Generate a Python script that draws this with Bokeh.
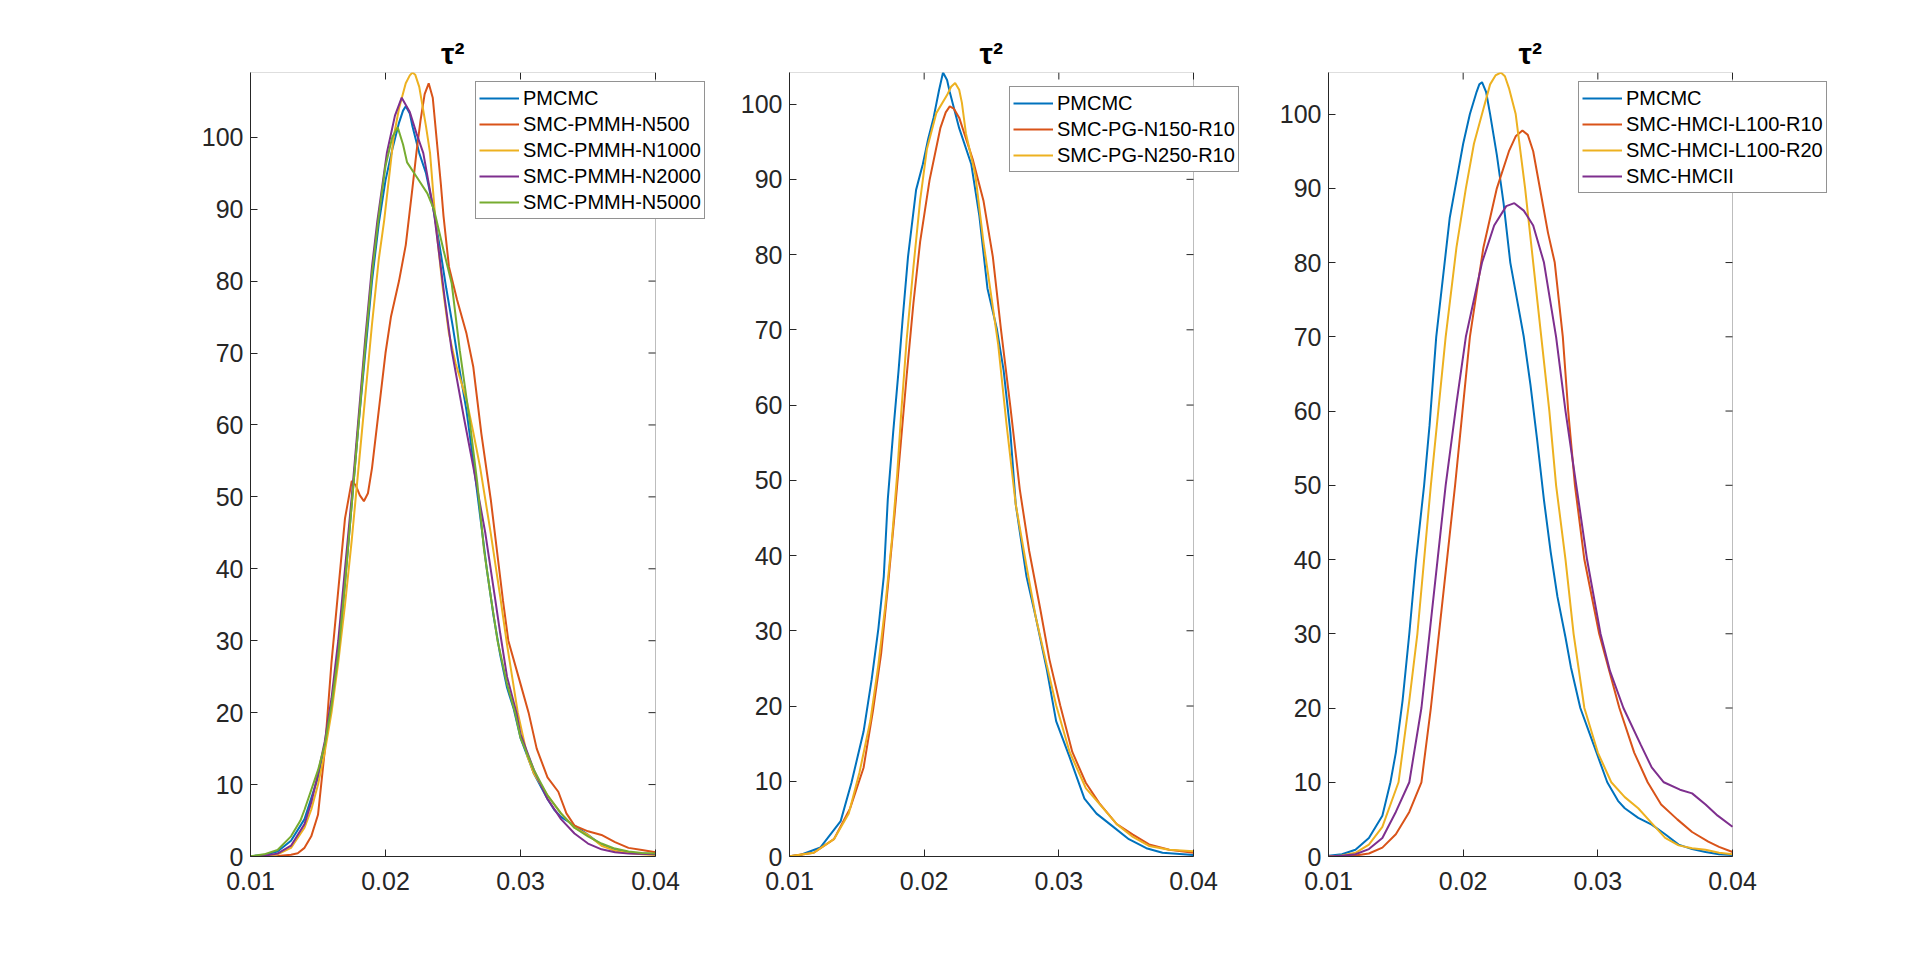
import math
from bokeh.plotting import figure
from bokeh.models import Range1d, FixedTicker, LinearAxis, Legend, LegendItem, BoxAnnotation, Title
from bokeh.layouts import row
from bokeh.embed import file_html
from bokeh.resources import INLINE

# ---------------- data ----------------
x_ticks = [0.01, 0.02, 0.03, 0.04]
y_ticks = [0, 10, 20, 30, 40, 50, 60, 70, 80, 90, 100]
x_lo, x_hi = 0.01, 0.04
title_text = "τ²"

# Panel 1
p1_labels = ["PMCMC", "SMC-PMMH-N500", "SMC-PMMH-N1000", "SMC-PMMH-N2000", "SMC-PMMH-N5000"]
p1_ymax = 109
p1_pmcmc_x = [0.010, 0.011, 0.012, 0.013, 0.014, 0.015, 0.0155, 0.016, 0.0165, 0.017, 0.0175, 0.018, 0.0185,
              0.019, 0.0195, 0.020, 0.0205, 0.021, 0.0213, 0.0215, 0.0218, 0.022, 0.0225, 0.023, 0.0235, 0.024,
              0.0245, 0.025, 0.0255, 0.026, 0.0265, 0.027, 0.0275, 0.028, 0.0285, 0.029, 0.0295, 0.030, 0.031,
              0.032, 0.0325, 0.033, 0.034, 0.035, 0.036, 0.037, 0.038, 0.039, 0.040]
p1_pmcmc_y = [0.05, 0.2, 0.7, 2.2, 5.2, 11, 15.5, 21, 28, 38, 49, 60, 70,
              80, 88, 94, 98.3, 102, 103.7, 104.3, 103.3, 101.5, 97.8, 95, 90.5, 85,
              79, 73.5, 67.5, 62, 55, 47.5, 40, 33.5, 28, 23.5, 20.5, 16.5, 11.5,
              8, 6.5, 5.5, 4.3, 3, 1.6, 0.9, 0.6, 0.4, 0.3]
p1_n500_x = [0.010, 0.011, 0.012, 0.013, 0.0135, 0.014, 0.0145, 0.015, 0.0155, 0.016, 0.0165, 0.017, 0.0175,
             0.0178, 0.0181, 0.0184, 0.0187, 0.019, 0.0195, 0.020, 0.0204, 0.021, 0.0215, 0.022, 0.0223, 0.0226,
             0.0229, 0.0232, 0.0235, 0.0238, 0.0241, 0.0243, 0.0247, 0.0253, 0.026, 0.0265, 0.0271, 0.0278,
             0.0287, 0.0291, 0.030, 0.0306, 0.0312, 0.032, 0.0328, 0.0334, 0.034, 0.035, 0.036, 0.037, 0.038,
             0.039, 0.040]
p1_n500_y = [0, 0.02, 0.08, 0.25, 0.45, 1.2, 2.8, 5.8, 14.7, 27, 37, 47, 52.2,
             51.6, 50.2, 49.4, 50.5, 54, 62, 70, 75, 80, 85, 93, 98, 102.4,
             106, 107.5, 105.5, 99.5, 93.5, 89, 82, 77.4, 72.7, 68.1, 58.8, 49.6,
             35.6, 30, 24, 20, 15, 11, 9, 6, 4.3, 3.5, 3.0, 2.0, 1.2,
             0.9, 0.6]
p1_n1000_x = [0.010, 0.011, 0.012, 0.013, 0.014, 0.0145, 0.015, 0.0155, 0.016, 0.0165, 0.017, 0.0175, 0.018,
              0.0185, 0.019, 0.0195, 0.0199, 0.0203, 0.0206, 0.021, 0.0215, 0.0218, 0.022, 0.0222, 0.0225, 0.023,
              0.0233, 0.0237, 0.0242, 0.0247, 0.0252, 0.026, 0.0265, 0.027, 0.0278, 0.0285, 0.029, 0.0298, 0.0305,
              0.031, 0.032, 0.033, 0.034, 0.035, 0.036, 0.037, 0.038, 0.039, 0.040]
p1_n1000_y = [0.02, 0.08, 0.3, 1.2, 4, 6.5, 10, 14.5, 20, 27, 35, 44, 54,
              64, 74, 83, 88.4, 95, 100, 104, 107.5, 108.6, 109, 108.7, 107, 101.5,
              97.8, 88.4, 79.7, 72.7, 68.5, 63.5, 59, 54.2, 44.9, 36.1, 29.5, 20, 14,
              11.5, 8.5, 6, 4, 3, 1.5, 0.8, 0.5, 0.3, 0.2]
p1_n2000_x = [0.010, 0.011, 0.012, 0.013, 0.014, 0.0145, 0.015, 0.0155, 0.016, 0.0165, 0.017, 0.0175, 0.018,
              0.0185, 0.019, 0.0194, 0.0201, 0.0207, 0.0212, 0.0218, 0.0223, 0.0228, 0.0236, 0.0244, 0.0249,
              0.0258, 0.0265, 0.0274, 0.0281, 0.0285, 0.029, 0.0297, 0.030, 0.031, 0.032, 0.033, 0.034, 0.035,
              0.036, 0.037, 0.038, 0.040]
p1_n2000_y = [0.03, 0.1, 0.4, 1.5, 4.5, 7.5, 11.5, 16, 22, 30, 40, 50, 61,
              72, 82, 88.4, 97.8, 103, 105.5, 103.5, 100.5, 97.8, 89.4, 77.4, 70.4,
              61.1, 54.2, 44.9, 36.1, 31, 25, 20, 17, 12, 8, 5.2, 3.2, 1.8,
              1.0, 0.6, 0.4, 0.3]
p1_n5000_x = [0.010, 0.011, 0.012, 0.013, 0.0137, 0.014, 0.015, 0.0155, 0.016, 0.0165, 0.017, 0.0175, 0.018,
              0.0185, 0.019, 0.0195, 0.020, 0.0205, 0.0209, 0.0213, 0.0216, 0.0223, 0.0231, 0.0236, 0.0243,
              0.0249, 0.0255, 0.0262, 0.0268, 0.0273, 0.0278, 0.0283, 0.029, 0.0296, 0.030, 0.031, 0.032, 0.033,
              0.034, 0.035, 0.036, 0.037, 0.038, 0.039, 0.040]
p1_n5000_y = [0.05, 0.3, 0.9, 2.8, 5, 6.5, 12, 15.5, 21, 28, 38, 49, 60,
              71, 81, 89, 96, 100, 101.4, 99, 96.5, 94.5, 92.2, 89.9, 84.3,
              79.7, 70.4, 61.1, 51.9, 42.6, 36.1, 30, 24, 20, 16.5, 12, 8.5, 6,
              4, 2.8, 1.8, 1.1, 0.7, 0.5, 0.4]

# Panel 2
p2_labels = ["PMCMC", "SMC-PG-N150-R10", "SMC-PG-N250-R10"]
p2_ymax = 104.2
p2_pmcmc_x = [0.010, 0.0108, 0.0123, 0.0138, 0.0146, 0.0155, 0.0161, 0.0166, 0.0170, 0.0173, 0.0177, 0.0181,
              0.0184, 0.0188, 0.0194, 0.0199, 0.0203, 0.0207, 0.0211, 0.0214, 0.0217, 0.0219, 0.0226, 0.0235,
              0.0241, 0.0247, 0.0254, 0.0259, 0.0264, 0.0268, 0.0276, 0.0283, 0.0291, 0.0298, 0.0308, 0.0319,
              0.0328, 0.034, 0.0352, 0.0365, 0.0377, 0.040]
p2_pmcmc_y = [0.05, 0.2, 1.2, 4.7, 9.8, 16.6, 23.5, 30.3, 37.2, 47.5, 56.4, 64.6,
              71.4, 79.7, 88.6, 92, 95.4, 98.2, 101.8, 104.2, 103.2, 101.6, 96.8, 92,
              85.1, 75.5, 70.1, 64.6, 56.4, 46.8, 37.2, 31.7, 24.9, 18, 13.2, 7.7,
              5.7, 4.0, 2.3, 1.1, 0.5, 0.2]
p2_n150_x = [0.010, 0.0118, 0.0133, 0.0145, 0.0155, 0.0162, 0.0168, 0.0173, 0.0178, 0.0182, 0.0187, 0.0192,
             0.0197, 0.0204, 0.0212, 0.0216, 0.0219, 0.0222, 0.0226, 0.0236, 0.0244, 0.0251, 0.0257, 0.0264,
             0.0271, 0.0278, 0.0286, 0.0293, 0.0301, 0.0310, 0.0320, 0.0330, 0.0343, 0.0355, 0.0367, 0.0382,
             0.040]
p2_n150_y = [0.02, 0.5, 2.3, 6.4, 11.8, 19.4, 26.9, 35.8, 45.4, 53.6, 63.9, 73.5,
             81.7, 89.9, 96.8, 98.9, 99.7, 99.4, 98.2, 92.7, 87.2, 79.7, 70.1, 59.8,
             48.8, 40.6, 33.1, 26.2, 20.1, 13.9, 9.8, 7.1, 4.3, 2.9, 1.6, 0.9,
             0.5]
p2_n250_x = [0.010, 0.0118, 0.0133, 0.0144, 0.0152, 0.0160, 0.0166, 0.0171, 0.0176, 0.0180, 0.0183, 0.0187,
             0.0192, 0.0197, 0.0202, 0.0209, 0.0217, 0.0220, 0.0223, 0.0226, 0.0228, 0.0231, 0.0238, 0.0244,
             0.0249, 0.0255, 0.0261, 0.0268, 0.0276, 0.0283, 0.0291, 0.0298, 0.0308, 0.0320, 0.0333, 0.0343,
             0.0355, 0.0367, 0.0382, 0.040]
p2_n250_y = [0.02, 0.5, 2.3, 5.7, 11.2, 18, 25.5, 33.1, 42, 50.9, 59.1, 68.7,
             78.3, 87.2, 94, 98.8, 101.2, 102.3, 102.8, 101.9, 100.2, 96.1, 90.6, 81.7,
             75.5, 68, 57.7, 46.8, 38.6, 31.7, 25.5, 20.1, 13.9, 9.1, 6.4, 4.3,
             2.6, 1.4, 0.9, 0.7]

# Panel 3
p3_labels = ["PMCMC", "SMC-HMCI-L100-R10", "SMC-HMCI-L100-R20", "SMC-HMCII"]
p3_ymax = 105.6
p3_pmcmc_x = [0.010, 0.011, 0.012, 0.013, 0.014, 0.0146, 0.015, 0.0155, 0.016, 0.0165, 0.0171, 0.0175, 0.018,
              0.0185, 0.019, 0.0194, 0.020, 0.0205, 0.021, 0.0212, 0.0214, 0.0217, 0.022, 0.0225, 0.023, 0.0235,
              0.024, 0.0245, 0.025, 0.0255, 0.026, 0.0265, 0.027, 0.0276, 0.028, 0.0287, 0.0295, 0.030, 0.0307,
              0.0315, 0.032, 0.033, 0.034, 0.035, 0.036, 0.037, 0.038, 0.039, 0.040]
p3_pmcmc_y = [0.1, 0.3, 0.9, 2.5, 5.5, 10, 14, 21, 30, 40, 50, 58, 70,
              78, 86, 90, 96, 100, 103, 104, 104.3, 103, 100, 94.5, 88, 80,
              75, 70, 63.5, 56, 48, 41, 35, 29.5, 25.5, 20, 16, 13.5, 10,
              7.5, 6.5, 5.2, 4.3, 3, 1.6, 1, 0.6, 0.3, 0.2]
p3_r10_x = [0.010, 0.011, 0.012, 0.013, 0.014, 0.015, 0.016, 0.0169, 0.0176, 0.0182, 0.0188, 0.0194, 0.0205,
            0.0215, 0.0225, 0.0234, 0.0239, 0.0244, 0.0248, 0.0252, 0.0258, 0.0263, 0.0268, 0.0274, 0.0278,
            0.0283, 0.029, 0.0301, 0.0316, 0.0327, 0.0337, 0.0347, 0.0359, 0.037, 0.0382, 0.039, 0.040]
p3_r10_y = [0, 0.05, 0.15, 0.4, 1.2, 3, 6, 10, 20, 30, 40, 50, 70,
            82, 90, 95, 97, 97.8, 97.2, 95, 89, 84, 80, 70, 60,
            50, 40, 30, 20, 14, 10, 7, 5, 3.3, 2, 1.3, 0.6]
p3_r20_x = [0.010, 0.011, 0.012, 0.013, 0.014, 0.0152, 0.016, 0.0166, 0.0176, 0.0187, 0.0195, 0.0202, 0.0208,
            0.0214, 0.022, 0.0224, 0.0228, 0.0231, 0.0234, 0.0239, 0.0246, 0.0252, 0.0258, 0.0264, 0.0269,
            0.0276, 0.0282, 0.029, 0.030, 0.031, 0.032, 0.033, 0.034, 0.035, 0.036, 0.037, 0.038, 0.039, 0.040]
p3_r20_y = [0, 0.15, 0.5, 1.6, 4, 10, 21, 30, 50, 70, 82, 90, 96,
            100, 104, 105.2, 105.6, 105.1, 103.5, 100, 90, 80, 70, 60, 50,
            40, 30, 20, 14, 10, 8, 6.5, 4.5, 2.5, 1.5, 1.1, 0.9, 0.5, 0.3]
p3_hmcii_x = [0.010, 0.011, 0.012, 0.013, 0.014, 0.015, 0.016, 0.0169, 0.0175, 0.0181, 0.0187, 0.0195, 0.0202,
              0.0214, 0.0223, 0.0232, 0.0238, 0.0245, 0.0252, 0.026, 0.0269, 0.0276, 0.0284, 0.0292, 0.0302,
              0.0309, 0.0319, 0.0332, 0.034, 0.0349, 0.0361, 0.037, 0.038, 0.0389, 0.040]
p3_hmcii_y = [0, 0.1, 0.3, 1, 2.5, 6, 10, 20, 30, 40, 50, 61, 70,
              80, 85, 87.6, 88, 87, 85, 80, 70, 60, 50, 40, 30,
              25, 20, 15, 12, 10, 9, 8.5, 7, 5.5, 4]

# ---------------- styling ----------------
COLORS = ["#0072BD", "#D95319", "#EDB120", "#7E2F8E", "#77AC30"]
FONT = "Liberation Sans"
AX = "#262626"
FRAME_H = 784
TICK = 7


def style_axis(ax):
    ax.axis_line_color = AX
    ax.axis_line_width = 1
    ax.major_tick_line_color = AX
    ax.major_tick_in = TICK
    ax.major_tick_out = 0
    ax.minor_tick_line_color = None
    ax.major_label_text_font = FONT
    ax.major_label_text_font_size = "25px"
    ax.major_label_text_color = AX


def make_panel(xs, ys, labels, ymax, box_w, extra_w, bl, br, legend_xy):
    frame_w = box_w + extra_w
    # x range extended to the right so the legend (which overhangs the box) stays inside the frame
    x_end = x_lo + (x_hi - x_lo) * frame_w / box_w
    p = figure(frame_width=frame_w, frame_height=FRAME_H,
               min_border_left=bl, min_border_right=br, min_border_top=72, min_border_bottom=60,
               x_range=Range1d(x_lo, x_end), y_range=Range1d(0, ymax),
               x_axis_type=None, y_axis_type=None,
               output_backend="svg", toolbar_location=None)
    p.outline_line_color = None
    p.background_fill_color = "white"
    p.border_fill_color = "white"
    p.grid.visible = False

    xb = LinearAxis(ticker=FixedTicker(ticks=x_ticks), bounds=(x_lo, x_hi))
    style_axis(xb)
    xb.major_label_standoff = 15
    yl = LinearAxis(ticker=FixedTicker(ticks=y_ticks))
    style_axis(yl)
    yl.major_label_standoff = 7
    p.add_layout(xb, "below")
    p.add_layout(yl, "left")

    # box (top and right edges) with inward ticks
    p.add_layout(BoxAnnotation(left=x_lo, right=x_hi, bottom=0, top=ymax,
                               fill_alpha=0, line_color=AX, line_width=1, level="underlay"))
    p.ray(x=[x_hi] * len(y_ticks), y=y_ticks, length=TICK, length_units="screen",
          angle=math.pi, line_color=AX, line_width=1)
    p.ray(x=x_ticks, y=[ymax] * len(x_ticks), length=TICK, length_units="screen",
          angle=-math.pi / 2, line_color=AX, line_width=1)

    items = []
    for i, (x, y, lab) in enumerate(zip(xs, ys, labels)):
        r = p.line(x, y, line_color=COLORS[i], line_width=2)
        items.append(LegendItem(label=lab, renderers=[r]))

    leg = Legend(items=items, location=legend_xy)
    leg.label_text_font = FONT
    leg.label_text_font_size = "20px"
    leg.label_text_color = "black"
    leg.border_line_color = AX
    leg.border_line_width = 1
    leg.background_fill_color = "white"
    leg.background_fill_alpha = 1
    leg.padding = 3
    leg.spacing = 0
    leg.margin = 0
    leg.label_height = 26
    leg.glyph_height = 26
    leg.glyph_width = 40
    leg.label_standoff = 4
    p.add_layout(leg)

    t = Title(text=title_text, align="left", offset=box_w / 2 - 12, text_font=FONT,
              text_font_size="30px", text_font_style="bold", text_color="black", standoff=5)
    p.add_layout(t, "above")
    return p


f1 = make_panel([p1_pmcmc_x, p1_n500_x, p1_n1000_x, p1_n2000_x, p1_n5000_x],
                [p1_pmcmc_y, p1_n500_y, p1_n1000_y, p1_n2000_y, p1_n5000_y],
                p1_labels, p1_ymax, 405, 50, 250, 0, (225, 637))
f2 = make_panel([p2_pmcmc_x, p2_n150_x, p2_n250_x],
                [p2_pmcmc_y, p2_n150_y, p2_n250_y],
                p2_labels, p2_ymax, 404, 55, 84, 0, (220, 684))
f3 = make_panel([p3_pmcmc_x, p3_r10_x, p3_r20_x, p3_hmcii_x],
                [p3_pmcmc_y, p3_r10_y, p3_r20_y, p3_hmcii_y],
                p3_labels, p3_ymax, 404, 95, 80, 5, (250, 663))

layout = row(f1, f2, f3, spacing=0)
open("out.html", "w").write(file_html(layout, INLINE))
